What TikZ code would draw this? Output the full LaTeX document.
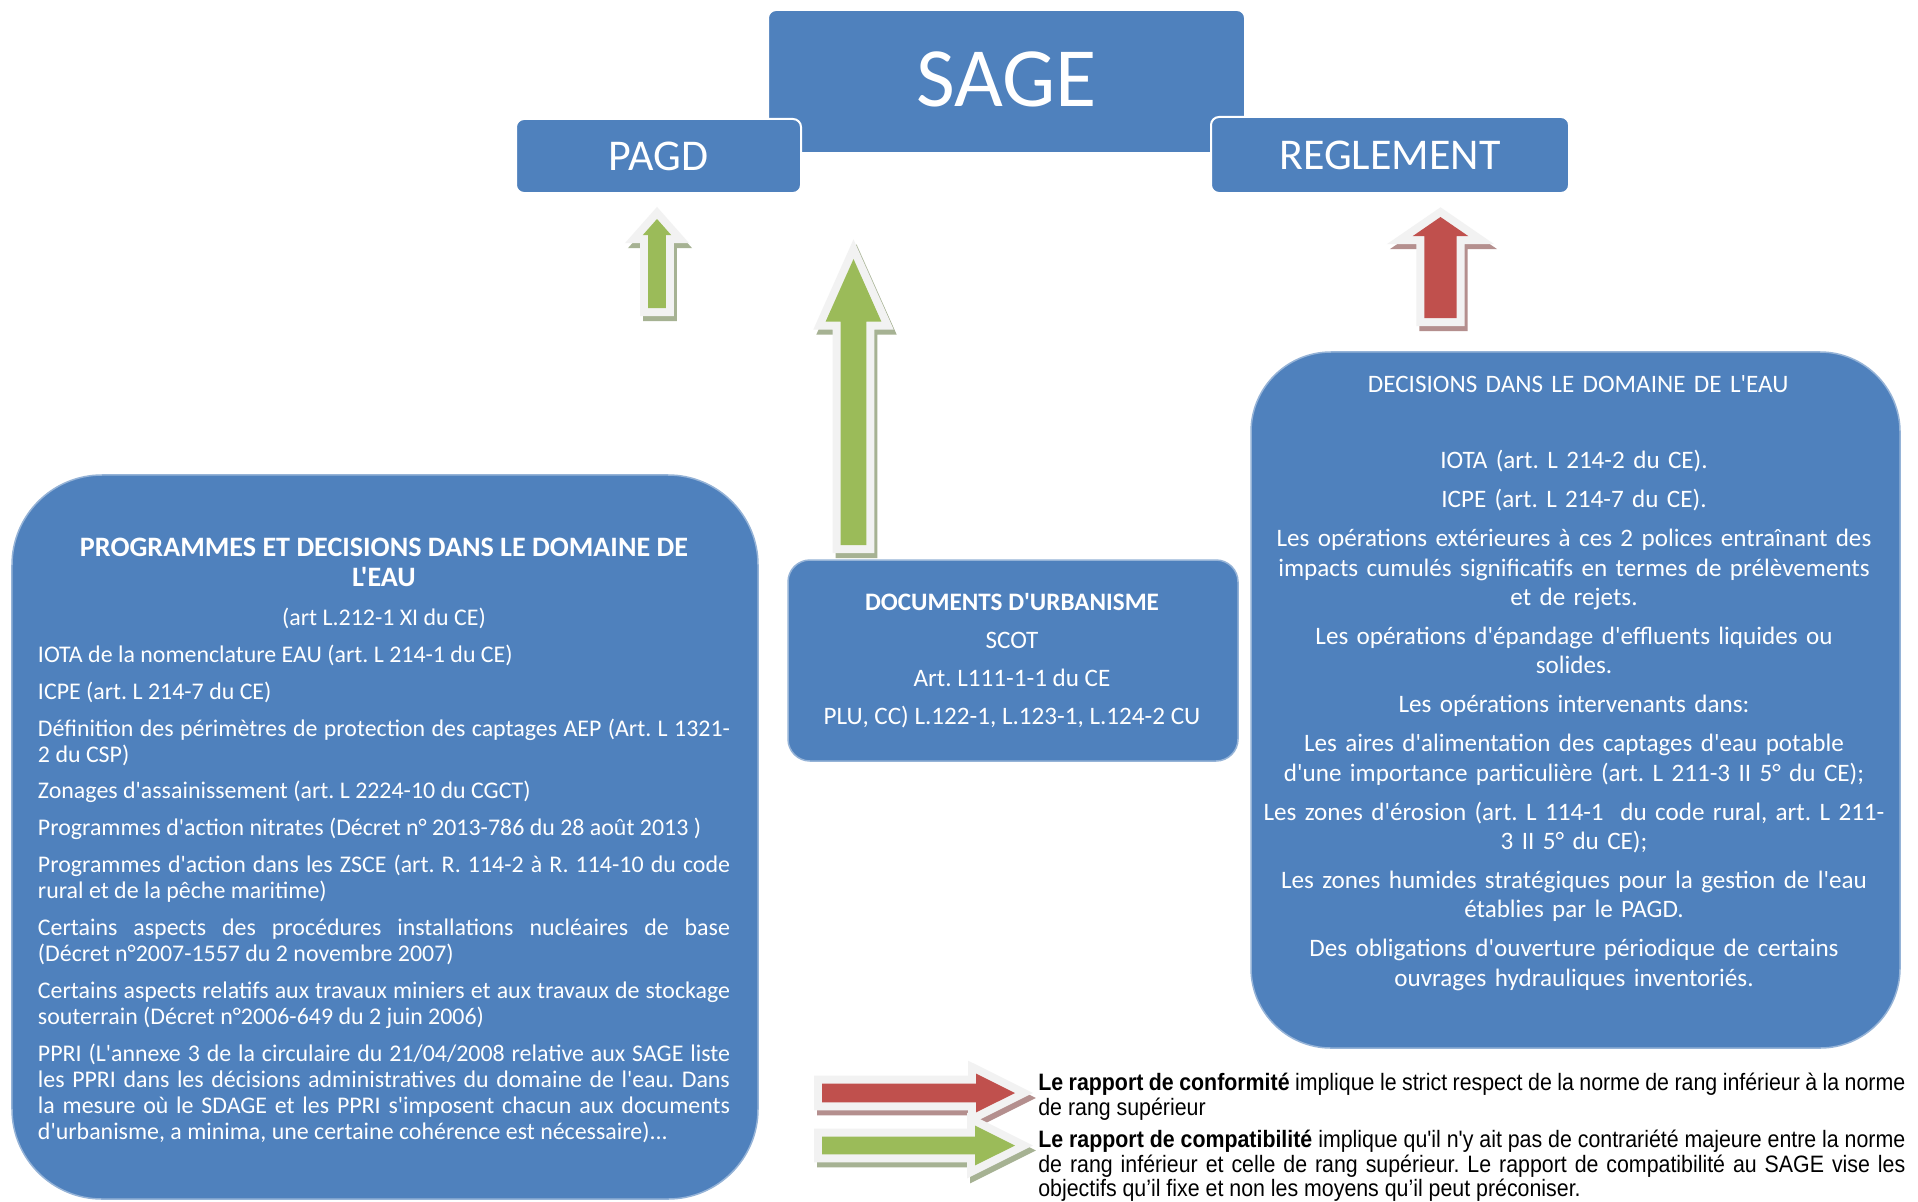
\documentclass[tikz,border=0pt]{standalone}
\usepackage{fontspec}
\setmainfont{Carlito}[Ligatures=TeXOff]
\newfontfamily\legendfont[FakeStretch=0.9,Ligatures=TeXOff]{Liberation Sans}
\usetikzlibrary{shapes.arrows}
\frenchspacing

\definecolor{boxblue}{HTML}{4F81BD}
\definecolor{arrowgreen}{HTML}{9BBB59}
\definecolor{arrowred}{HTML}{C0504D}
\definecolor{rimgray}{HTML}{F2F2F2}
\definecolor{greenshade}{HTML}{A6B293}
\definecolor{redshade}{HTML}{B48F8E}

\begin{document}
\begin{tikzpicture}[x=0.2mm, y=-0.2mm]
    % Styles
    \tikzstyle{headbox} = [rectangle, rounded corners=1.6mm, fill=boxblue, draw=white, line width=0.4mm, text=white, inner sep=0pt]
    \tikzstyle{lowbox} = [rectangle, fill=boxblue, draw=boxblue!60!white, line width=0.3mm, inner sep=0pt]
    \tikzstyle{boxtext} = [text=white, inner sep=0pt, anchor=north]
    \tikzstyle{blockarrow} = [single arrow, inner xsep=0pt, outer sep=0pt, anchor=tail]
    \tikzstyle{greenarrow} = [blockarrow, fill=arrowgreen,
        preaction={draw=greenshade, fill=greenshade, line width=3.2mm, transform canvas={xshift=0.6mm, yshift=-1mm}},
        preaction={draw=rimgray, fill=rimgray, line width=3.2mm}]
    \tikzstyle{redarrow} = [blockarrow, fill=arrowred,
        preaction={draw=redshade, fill=redshade, line width=3.2mm, transform canvas={xshift=0.6mm, yshift=-1mm}},
        preaction={draw=rimgray, fill=rimgray, line width=3.2mm}]
    \tikzstyle{legendtext} = [anchor=north west, inner sep=0pt, text width=173.4mm, align=justify, font=\legendfont\fontsize{13.5}{13.9}\selectfont]

    \fill[white] (0,0) rectangle (1918,1201);
    \useasboundingbox (0,0) rectangle (1918,1201);

    % Top boxes
    \node[headbox, minimum width=95.4mm, minimum height=28.6mm, font=\fontsize{48}{50}\selectfont] (sage) at (1006.5,81.5) {\raisebox{0.9mm}{SAGE}};
    \node[headbox, minimum width=57mm, minimum height=14.8mm, font=\fontsize{25}{27}\selectfont] (pagd) at (658.5,156) {PAGD};
    \node[headbox, minimum width=71.6mm, minimum height=15.2mm, font=\fontsize{25}{27}\selectfont] (reglement) at (1390,155) {REGLEMENT};

    % Vertical arrows
    \node[greenarrow, rotate=90, minimum height=17.8mm, minimum width=5.6mm, inner ysep=1.7mm,
          single arrow head extend=1.1mm, single arrow tip angle=83] (pagdArrow) at (657,308) {};
    \node[greenarrow, rotate=90, minimum height=57.2mm, minimum width=11mm, inner ysep=2.5mm,
          single arrow head extend=3mm, single arrow tip angle=48] (urbaArrow) at (853.5,545) {};
    \node[redarrow, rotate=90, minimum height=20.2mm, minimum width=11mm, inner ysep=3.15mm,
          single arrow head extend=2.35mm, single arrow tip angle=111] (reglArrow) at (1440.5,318) {};

    % Left box
    \node[lowbox, rounded corners=18mm, minimum width=149.2mm, minimum height=144.8mm] (progBox) at (385,837) {};
    \node[boxtext, text width=138.4mm, align=justify, font=\fontsize{13.6}{14.8}\selectfont] (progText) at (384,538) {%
        \setlength{\parskip}{6.2pt}\hyphenpenalty=10000\emergencystretch=2em
        {\centering\fontsize{16}{17}\selectfont\bfseries PROGRAMMES ET DECISIONS DANS LE DOMAINE DE\\ L'EAU\par}
        \vspace{1pt}
        {\centering (art L.212-1 XI du CE)\par}
        IOTA de la nomenclature EAU (art. L 214-1 du CE)\par
        ICPE (art. L 214-7 du CE)\par
        Définition des périmètres de protection des captages AEP (Art. L 1321-\linebreak 2 du CSP)\par
        Zonages d'assainissement (art. L 2224-10 du CGCT)\par
        Programmes d'action nitrates (Décret n° 2013-786 du 28 août 2013 )\par
        Programmes d'action dans les ZSCE (art. R. 114-2 à R. 114-10 du code\linebreak rural et de la pêche maritime)\par
        Certains aspects des procédures installations nucléaires de base\linebreak (Décret n°2007-1557 du 2 novembre 2007)\par
        Certains aspects relatifs aux travaux miniers et aux travaux de stockage\linebreak souterrain (Décret n°2006-649 du 2 juin 2006)\par
        PPRI (L'annexe 3 de la circulaire du 21/04/2008 relative aux SAGE liste\linebreak les PPRI dans les décisions administratives du domaine de l'eau. Dans\linebreak la mesure où le SDAGE et les PPRI s'imposent chacun aux documents\linebreak d'urbanisme, a minima, une certaine cohérence est nécessaire)...\par};

    % Middle box
    \node[lowbox, rounded corners=4.4mm, minimum width=90mm, minimum height=40.2mm] (urbaBox) at (1013,660.5) {};
    \node[boxtext, align=center, font=\fontsize{14.3}{21.6}\selectfont] (urbaText) at (1012,593) {%
        \textbf{DOCUMENTS D'URBANISME}\\ SCOT\\ Art. L111-1-1 du CE\\ PLU, CC) L.122-1, L.123-1, L.124-2 CU};

    % Right box
    \node[lowbox, rounded corners=16mm, minimum width=129.8mm, minimum height=139.2mm] (eauBox) at (1575.5,700) {};
    \node[boxtext, text width=126mm, align=center, font=\fontsize{14.3}{16.7}\selectfont] (eauText) at (1574,375.5) {%
        \setlength{\parskip}{5.5pt}
        DECISIONS DANS LE DOMAINE DE L'EAU\par
        \vspace{21pt}
        IOTA (art. L 214-2 du CE).\par
        ICPE (art. L 214-7 du CE).\par
        Les opérations extérieures à ces 2 polices entraînant des\\ impacts cumulés significatifs en termes de prélèvements\\ et de rejets.\par
        Les opérations d'épandage d'effluents liquides ou\\ solides.\par
        Les opérations intervenants dans:\par
        Les aires d'alimentation des captages d'eau potable\\ d'une importance particulière (art. L 211-3 II 5° du CE);\par
        Les zones d'érosion (art. L 114-1 \ du code rural, art. L 211-\\ 3 II 5° du CE);\par
        Les zones humides stratégiques pour la gestion de l'eau\\ établies par le PAGD.\par
        Des obligations d'ouverture périodique de certains\\ ouvrages hydrauliques inventoriés.\par};

    % Legend
    \node[redarrow, minimum height=38.6mm, minimum width=7.6mm, inner ysep=1.8mm,
          single arrow head extend=2mm, single arrow tip angle=53] (conformArrow) at (822,1093) {};
    \node[greenarrow, minimum height=38.6mm, minimum width=7.8mm, inner ysep=1.7mm,
          single arrow head extend=2.2mm, single arrow tip angle=53] (compatArrow) at (822,1145.5) {};
    \node[legendtext] (conformText) at (1038,1073) {%
        \textbf{Le rapport de conformité} implique le strict respect de la norme de rang inférieur à la norme\linebreak de rang supérieur};
    \node[legendtext] (compatText) at (1038,1130) {%
        \textbf{Le rapport de compatibilité} implique qu'il n'y ait pas de contrariété majeure entre la norme\linebreak de rang inférieur et celle de rang supérieur. Le rapport de compatibilité au SAGE vise les\linebreak objectifs qu’il fixe et non les moyens qu’il peut préconiser.};
\end{tikzpicture}
\end{document}
